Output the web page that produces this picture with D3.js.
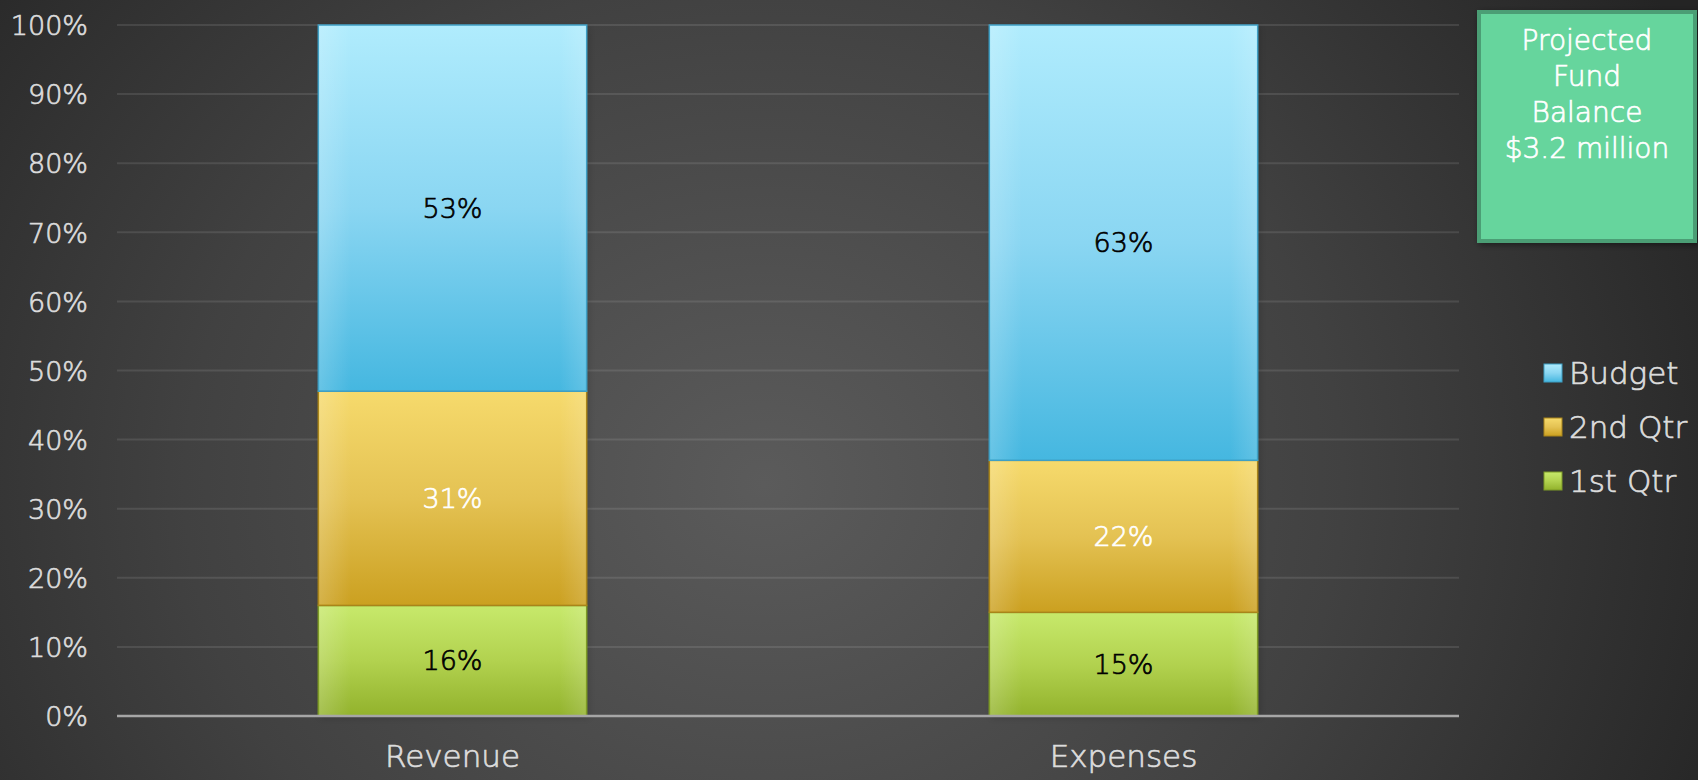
<!DOCTYPE html>
<html>
<head>
<meta charset="utf-8">
<script src="https://cdn.jsdelivr.net/npm/d3@7"></script>
<style>
  html, body { margin: 0; padding: 0; background: #2e2e2e; overflow: hidden; }
  svg { display: block; }
  text { font-family: "DejaVu Sans", "Open Sans", sans-serif; font-weight: 200; }
</style>
</head>
<body>
<svg id="chart" width="1698" height="780"></svg>
<script>
// ---- data ----
const categories = ["Revenue", "Expenses"];
const seriesKeys = ["q1", "q2", "budget"];
const seriesNames = ["1st Qtr", "2nd Qtr", "Budget"];
const q1Values = [0.16, 0.15];
const q2Values = [0.31, 0.22];
const budgetValues = [0.53, 0.63];
const tickValues = [0, 0.1, 0.2, 0.3, 0.4, 0.5, 0.6, 0.7, 0.8, 0.9, 1.0];
const boxLines = ["Projected", "Fund", "Balance", "$3.2 million"];

// ---- styles ----
const gradStops = {
  budget: ["#b0ecfd", "#8ad6f2", "#45b7e0"],
  q2: ["#f6da6c", "#e4c253", "#cba020"],
  q1: ["#c7e96b", "#b2d24f", "#92b22c"]
};
const edgeColors = { budget: "#3f9fc4", q2: "#a8841a", q1: "#7d9a26" };
const labelColors = { budget: "#000000", q2: "#ffffff", q1: "#000000" };
const textGray = "#dcdcdc";

const rows = categories.map((c, i) => ({ cat: c, q1: q1Values[i], q2: q2Values[i], budget: budgetValues[i] }));

const svg = d3.select("#chart");
const W = 1698, H = 780;
const defs = svg.append("defs");

// background radial gradient
const bg = defs.append("radialGradient").attr("id", "bg")
  .attr("cx", "0.45").attr("cy", "0.62").attr("r", "0.62")
  .attr("gradientTransform", "translate(0.45,0.62) scale(1,1.9) translate(-0.45,-0.62)");
bg.append("stop").attr("offset", "0").attr("stop-color", "#5b5b5b");
bg.append("stop").attr("offset", "0.55").attr("stop-color", "#414141");
bg.append("stop").attr("offset", "1").attr("stop-color", "#242424");
svg.append("rect").attr("width", W).attr("height", H).attr("fill", "url(#bg)");

seriesKeys.forEach(k => {
  const g = defs.append("linearGradient").attr("id", "g-" + k)
    .attr("x1", 0).attr("y1", 0).attr("x2", 0).attr("y2", 1);
  gradStops[k].forEach((c, i) => g.append("stop").attr("offset", i / (gradStops[k].length - 1)).attr("stop-color", c));
  const h = defs.append("linearGradient").attr("id", "h-" + k)
    .attr("x1", 0).attr("y1", 0).attr("x2", 1).attr("y2", 0);
  h.append("stop").attr("offset", 0).attr("stop-color", "#ffffff").attr("stop-opacity", 0.18);
  h.append("stop").attr("offset", 0.12).attr("stop-color", "#ffffff").attr("stop-opacity", 0);
  h.append("stop").attr("offset", 0.9).attr("stop-color", "#ffffff").attr("stop-opacity", 0);
  h.append("stop").attr("offset", 1).attr("stop-color", "#ffffff").attr("stop-opacity", 0.15);
});

const shadow = defs.append("filter").attr("id", "shadow").attr("x", "-10%").attr("y", "-10%").attr("width", "130%").attr("height", "130%");
shadow.append("feDropShadow").attr("dx", 2).attr("dy", 2).attr("stdDeviation", 3).attr("flood-color", "#000").attr("flood-opacity", 0.45);

// ---- scales ----
const x = d3.scaleBand().domain(categories).range([117, 1459]).paddingInner(0.6).paddingOuter(0.3);
const y = d3.scaleLinear().domain([0, 1]).range([716, 25]);

// gridlines
svg.append("g").selectAll("line").data(tickValues.slice(1)).join("line")
  .attr("x1", 117).attr("x2", 1459)
  .attr("y1", d => y(d)).attr("y2", d => y(d))
  .attr("stroke", "#ffffff").attr("stroke-opacity", 0.1).attr("stroke-width", 2);

function thicken(sel, color) {
  sel.attr("stroke", color).attr("stroke-width", 0.7).attr("paint-order", "stroke");
}

// y axis labels
const yAxis = d3.axisLeft(y).tickValues(tickValues).tickFormat(d3.format(".0%")).tickSize(0).tickPadding(0);
const ya = svg.append("g").attr("transform", "translate(88,0)").call(yAxis);
ya.select(".domain").remove();
ya.selectAll("text").attr("fill", textGray).attr("font-size", 27).attr("dy", "0.36em")
  .style("font-family", "'DejaVu Sans', sans-serif").style("font-weight", 200)
  .call(thicken, textGray);

// stacked bars
const stack = d3.stack().keys(seriesKeys);
const stacked = stack(rows);

const barG = svg.append("g");
barG.selectAll("rect.sh").data(rows).join("rect").attr("class", "sh")
  .attr("x", d => x(d.cat)).attr("width", x.bandwidth())
  .attr("y", y(1)).attr("height", y(0) - y(1))
  .attr("fill", "#000").attr("opacity", 0.35).attr("filter", "url(#shadow)");

stacked.forEach(s => {
  const k = s.key;
  const g = barG.append("g");
  g.selectAll("rect.f").data(s).join("rect").attr("class", "f")
    .attr("x", d => x(d.data.cat)).attr("width", x.bandwidth())
    .attr("y", d => y(d[1])).attr("height", d => y(d[0]) - y(d[1]))
    .attr("fill", "url(#g-" + k + ")")
    .attr("stroke", edgeColors[k]).attr("stroke-width", 1.5);
  g.selectAll("rect.h").data(s).join("rect").attr("class", "h")
    .attr("x", d => x(d.data.cat) + 1).attr("width", x.bandwidth() - 2)
    .attr("y", d => y(d[1]) + 1).attr("height", d => y(d[0]) - y(d[1]) - 2)
    .attr("fill", "url(#h-" + k + ")");
  g.selectAll("text").data(s).join("text")
    .attr("x", d => x(d.data.cat) + x.bandwidth() / 2)
    .attr("y", d => (y(d[0]) + y(d[1])) / 2)
    .attr("dy", "0.36em").attr("text-anchor", "middle")
    .attr("font-size", 27).attr("fill", labelColors[k])
    .call(thicken, labelColors[k])
    .text(d => d3.format(".0%")(d[1] - d[0]));
});

// baseline axis
svg.append("line").attr("x1", 117).attr("x2", 1459).attr("y1", y(0)).attr("y2", y(0))
  .attr("stroke", "#a6a6a6").attr("stroke-width", 2.5);

// x axis labels
const xAxis = d3.axisBottom(x).tickSize(0).tickPadding(0);
const xa = svg.append("g").attr("transform", "translate(0,756)").call(xAxis);
xa.select(".domain").remove();
xa.selectAll("text").attr("fill", textGray).attr("font-size", 31).attr("dy", "0.36em")
  .style("font-family", "'DejaVu Sans', sans-serif").style("font-weight", 200)
  .call(thicken, textGray);

// legend
const legendOrder = ["budget", "q2", "q1"];
const lg = svg.append("g").selectAll("g").data(legendOrder).join("g")
  .attr("transform", (d, i) => `translate(1544, ${373 + i * 54})`);
lg.append("rect").attr("x", 0).attr("y", -9).attr("width", 18).attr("height", 18)
  .attr("fill", d => "url(#g-" + d + ")").attr("stroke", d => edgeColors[d]).attr("stroke-width", 1);
lg.append("text").attr("x", 25).attr("dy", "0.36em").attr("font-size", 31).attr("fill", textGray)
  .call(thicken, textGray)
  .text(d => seriesNames[seriesKeys.indexOf(d)]);

// projected fund balance box
const box = svg.append("g");
box.append("rect").attr("x", 1479).attr("y", 12).attr("width", 216).attr("height", 229)
  .attr("fill", "#66d59d").attr("stroke", "#4c9e74").attr("stroke-width", 4)
  .attr("filter", "url(#shadow)");
box.selectAll("text").data(boxLines).join("text")
  .attr("x", 1587).attr("y", (d, i) => 40 + i * 36).attr("dy", "0.36em")
  .attr("text-anchor", "middle").attr("font-size", 28).attr("fill", "#ffffff")
  .call(thicken, "#ffffff")
  .text(d => d);
</script>
</body>
</html>
